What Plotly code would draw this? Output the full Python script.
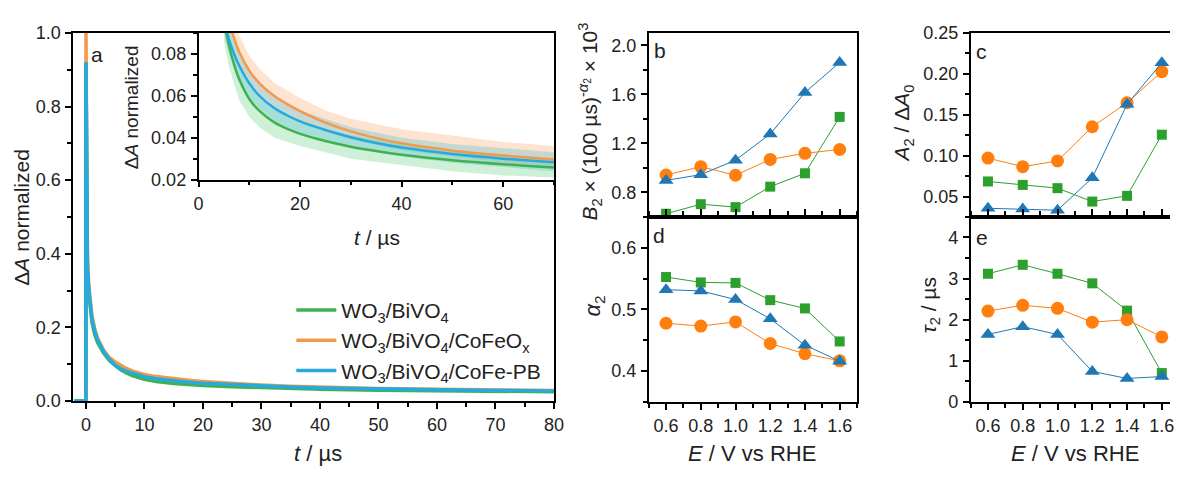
import plotly.graph_objects as go

W, H = 1180, 477

# ---------------- Panel a: transient absorption decays ----------------
t_us = [-2, -0.02, 0, 0.1, 0.25, 0.5, 1, 1.5, 2, 3, 4, 5, 6, 7, 8, 10, 12, 15, 18, 20,
        25, 30, 35, 40, 50, 60, 70, 80]
dA_WB = [0, 0, 0.92, 0.48, 0.35, 0.29, 0.215, 0.18, 0.158, 0.13, 0.11, 0.096, 0.084, 0.075,
         0.068, 0.0585, 0.0528, 0.0472, 0.0437, 0.0418, 0.0384, 0.0357, 0.0336, 0.0318, 0.0292,
         0.0273, 0.0258, 0.0247]
dA_OX = [0, 0, 1.0, 0.53, 0.39, 0.31, 0.235, 0.195, 0.17, 0.138, 0.118, 0.106, 0.096, 0.0875,
         0.081, 0.072, 0.066, 0.0598, 0.0553, 0.0527, 0.0472, 0.043, 0.0398, 0.0373, 0.0338,
         0.0315, 0.0296, 0.0282]
dA_PB = [0, 0, 0.92, 0.50, 0.36, 0.30, 0.225, 0.19, 0.165, 0.135, 0.113, 0.097, 0.087, 0.080,
         0.0745, 0.066, 0.060, 0.054, 0.050, 0.0478, 0.0437, 0.0402, 0.0375, 0.0353, 0.0322,
         0.030, 0.0283, 0.027]

# noisy raw-data envelope (inset)
t_band = [5, 6, 8, 10, 12, 15, 20, 25, 30, 40, 50, 60, 70]
WB_hi = [0.103, 0.091, 0.075, 0.065, 0.059, 0.053, 0.048, 0.044, 0.041, 0.037, 0.034, 0.032, 0.030]
WB_lo = [0.086, 0.074, 0.058, 0.050, 0.045, 0.040, 0.036, 0.033, 0.030, 0.027, 0.024, 0.022, 0.021]
OX_hi = [0.112, 0.103, 0.089, 0.079, 0.073, 0.066, 0.059, 0.053, 0.049, 0.044, 0.041, 0.038, 0.036]
OX_lo = [0.099, 0.090, 0.075, 0.067, 0.061, 0.055, 0.048, 0.043, 0.039, 0.034, 0.031, 0.028, 0.026]
PB_hi = [0.104, 0.094, 0.081, 0.072, 0.066, 0.060, 0.053, 0.049, 0.045, 0.040, 0.037, 0.035, 0.033]
PB_lo = [0.090, 0.080, 0.067, 0.059, 0.054, 0.048, 0.042, 0.038, 0.035, 0.031, 0.028, 0.026, 0.024]

# ---------------- Panels b-e: fit parameters vs potential ----------------
E_V = [0.6, 0.8, 1.0, 1.2, 1.4, 1.6]
B2_WB = [0.626, 0.704, 0.68, 0.847, 0.956, 1.416]
B2_OX = [0.942, 1.01, 0.94, 1.069, 1.119, 1.15]
B2_PB = [0.898, 0.945, 1.063, 1.277, 1.614, 1.86]
a2_WB = [0.5525, 0.5438, 0.543, 0.515, 0.5016, 0.448]
a2_OX = [0.4775, 0.473, 0.4797, 0.4447, 0.428, 0.4166]
a2_PB = [0.532, 0.530, 0.516, 0.4848, 0.442, 0.416]
A2_WB = [0.0684, 0.0642, 0.0602, 0.0438, 0.0508, 0.1256]
A2_OX = [0.097, 0.0865, 0.0935, 0.1353, 0.1647, 0.2027]
A2_PB = [0.0356, 0.0348, 0.0332, 0.0728, 0.1628, 0.2136]
tau2_WB = [3.118, 3.336, 3.118, 2.884, 2.22, 0.70]
tau2_OX = [2.21, 2.35, 2.276, 1.94, 2.0, 1.58]
tau2_PB = [1.64, 1.83, 1.64, 0.74, 0.57, 0.615]

names = ["WO<sub>3</sub>/BiVO<sub>4</sub>",
         "WO<sub>3</sub>/BiVO<sub>4</sub>/CoFeO<sub>x</sub>",
         "WO<sub>3</sub>/BiVO<sub>4</sub>/CoFe-PB"]

LC = {"WB": "#3fb24f", "OX": "#f39a4a", "PB": "#25a9df"}
BAND = {"WB": "rgba(90,205,120,0.30)", "OX": "rgba(250,175,120,0.35)", "PB": "rgba(70,190,215,0.30)"}
MC = {"WB": "#2ca02c", "OX": "#ff7f0e", "PB": "#1f77b4"}

FONT = "Liberation Sans, Arial, sans-serif"

fig = go.Figure()

# main panel traces (orange bottom, then green, blue on top)
main_series = [("OX", dA_OX, 2), ("WB", dA_WB, 1), ("PB", dA_PB, 3)]
for key, ys, rank in main_series:
    fig.add_trace(go.Scatter(x=t_us, y=ys, mode="lines", xaxis="x", yaxis="y",
                             line=dict(color=LC[key], width=3.5),
                             name=names[rank - 1], legendrank=rank, showlegend=True))

# inset: noisy bands
for key, hi, lo in [("OX", OX_hi, OX_lo), ("WB", WB_hi, WB_lo), ("PB", PB_hi, PB_lo)]:
    fig.add_trace(go.Scatter(x=t_band + t_band[::-1], y=hi + lo[::-1], mode="lines",
                             fill="toself", fillcolor=BAND[key], line=dict(width=0),
                             xaxis="x2", yaxis="y2", showlegend=False, hoverinfo="skip"))
# inset: fits
start = t_us.index(4)
for key, ys in [("OX", dA_OX), ("WB", dA_WB), ("PB", dA_PB)]:
    fig.add_trace(go.Scatter(x=t_us[start:], y=ys[start:], mode="lines",
                             line=dict(color=LC[key], width=2.5, shape="spline", smoothing=0.8),
                             xaxis="x2", yaxis="y2", showlegend=False))

# parameter panels
sym = {"WB": ("square", 10), "OX": ("circle", 13), "PB": ("triangle-up", 13)}
panels = [("x3", "y3", B2_WB, B2_OX, B2_PB),
          ("x4", "y4", a2_WB, a2_OX, a2_PB),
          ("x5", "y5", A2_WB, A2_OX, A2_PB),
          ("x6", "y6", tau2_WB, tau2_OX, tau2_PB)]
for xa, ya, wb, ox, pb in panels:
    for key, ys in [("WB", wb), ("OX", ox), ("PB", pb)]:
        s, sz = sym[key]
        fig.add_trace(go.Scatter(x=E_V, y=ys, mode="lines+markers", xaxis=xa, yaxis=ya,
                                 line=dict(color=MC[key], width=1),
                                 marker=dict(symbol=s, size=sz, color=MC[key],
                                             line=dict(width=0)),
                                 cliponaxis=False, showlegend=False))


def ax(domain, rng, dtick, tick0, mdtick, fmt, mirror=True, ticks="outside", labels=True,
       anchor=None):
    d = dict(domain=domain, range=rng, dtick=dtick, tick0=tick0, tickformat=fmt,
             showgrid=False, zeroline=False,
             showline=True, linecolor="black", linewidth=1.5, mirror=mirror,
             ticks=ticks, ticklen=6, tickwidth=1.5, tickcolor="black", ticklabelstandoff=1,
             showticklabels=labels, tickfont=dict(size=18, family=FONT, color="#222"))
    if ticks:
        d["minor"] = dict(dtick=mdtick, ticks="outside", ticklen=4, tickwidth=1.5,
                          tickcolor="black", showgrid=False)
    if anchor:
        d["anchor"] = anchor
    return d


def px_x(p):
    return p / W


def px_y(p):
    return 1 - p / H


ya_dom = [px_y(216), px_y(24)]
yb_dom = [px_y(409), px_y(216)]
xbd = [px_x(652), px_x(863)]
xce = [px_x(978), 1.0]

fig.update_layout(
    width=W, height=H, margin=dict(l=0, r=0, t=0, b=0),
    paper_bgcolor="white", plot_bgcolor="rgba(0,0,0,0)",
    font=dict(family=FONT, color="#222"),
    xaxis=ax([px_x(69), px_x(556)], [-2.2, 80], 10, 0, 5, "d", anchor="y"),
    yaxis=ax([px_y(408), px_y(24)], [0, 1.0], 0.2, 0, 0.1, ".1f", anchor="x"),
    xaxis2=ax([px_x(196), px_x(556)], [0, 70], 20, 0, 10, "d", mirror=False, anchor="y2"),
    yaxis2=ax([px_y(177), px_y(24)], [0.02, 0.09], 0.02, 0.02, 0.01, ".2f", mirror=False,
              anchor="x2"),
    xaxis3=ax(xbd, [0.5, 1.7], 0.2, 0.6, 0.1, ".1f", ticks="", labels=False, anchor="y3"),
    yaxis3=ax(ya_dom, [0.6, 2.1], 0.4, 0.8, 0.2, ".1f", anchor="x3"),
    xaxis4=ax(xbd, [0.5, 1.7], 0.2, 0.6, 0.1, ".1f", mirror="allticks", anchor="y4"),
    yaxis4=ax(yb_dom, [0.35, 0.65], 0.1, 0.4, 0.05, ".1f", anchor="x4"),
    xaxis5=ax(xce, [0.5, 1.647], 0.2, 0.6, 0.1, ".1f", ticks="", labels=False, anchor="y5"),
    yaxis5=ax(ya_dom, [0.025, 0.25], 0.05, 0.05, 0.025, ".2f", mirror=False, anchor="x5"),
    xaxis6=ax(xce, [0.5, 1.647], 0.2, 0.6, 0.1, ".1f", mirror="allticks", anchor="y6"),
    yaxis6=ax(yb_dom, [0, 4.5], 1, 0, 0.5, "d", mirror=False, anchor="x6"),
    legend=dict(x=px_x(290), y=px_y(292), xanchor="left", yanchor="top",
                bgcolor="rgba(0,0,0,0)", font=dict(size=21, family=FONT, color="#222"),
                tracegroupgap=0, itemwidth=40),
    showlegend=True,
)

ann = []


def text(x, y, s, size=21, angle=0):
    ann.append(dict(x=px_x(x), y=px_y(y), xref="paper", yref="paper", text=s, showarrow=False,
                    textangle=angle, xanchor="center", yanchor="middle",
                    font=dict(size=size, family=FONT, color="#222")))


# panel letters
text(93, 46, "a")
text(663, 42, "b")
text(662, 235, "d")
text(989, 43, "c")
text(990, 237, "e")
# axis titles
text(317, 463, "<i>t</i> / µs", 22)
text(17, 216, "Δ<i>A</i> normalized", 21, -90)
text(377, 237, "<i>t</i> / µs", 21)
text(128, 101, "Δ<i>A</i> normalized", 19, -90)
text(592, 116, "<i>B</i><sub>2</sub> × (100 µs)<sup>-<i>α</i><sub>2</sub></sup> × 10<sup>3</sup>", 21, -90)
text(597, 309, "<i>α</i><sub>2</sub>", 22, -90)
text(910, 118, "<i>A</i><sub>2</sub> / Δ<i>A</i><sub>0</sub>", 21, -90)
text(937, 308, "<i>τ</i><sub>2</sub> / µs", 21, -90)
text(757, 463, "<i>E</i> / V vs RHE", 22)
text(1084, 463, "<i>E</i> / V vs RHE", 22)
fig.update_layout(annotations=ann)

fig.write_html("out.html")
